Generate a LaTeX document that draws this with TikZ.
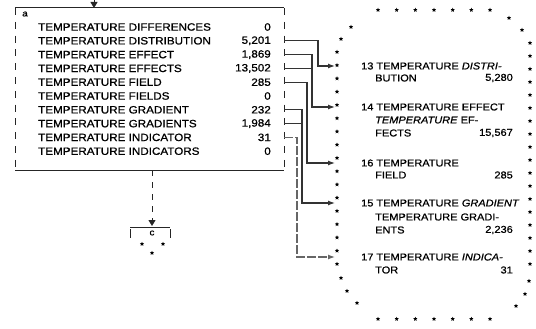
\documentclass[tikz,border=0pt]{standalone}
\usepackage{fontspec}
\setmainfont{Liberation Sans}
\newfontfamily\pf[FakeStretch=1.1,FakeBold=0.8]{Liberation Sans}
\usetikzlibrary{arrows.meta,shapes.geometric}
\begin{document}
\begin{tikzpicture}[x=1pt,y=-1pt,
  rowtxt/.style={anchor=west,inner sep=0pt,font=\pf\fontsize{10.6}{12}\selectfont},
  rownum/.style={anchor=east,inner sep=0pt,font=\pf\fontsize{10.6}{12}\selectfont},
  rtxt/.style={anchor=west,inner sep=0pt,font=\pf\fontsize{10}{11}\selectfont},
  rnum/.style={anchor=east,inner sep=0pt,font=\pf\fontsize{10}{11}\selectfont},
  conn/.style={draw=black!80,line width=1.2pt},
  arr/.style={-{Latex[length=7pt,width=5pt]}},
  boxline/.style={draw=black!85,line width=1pt},
  starmark/.style={star,star points=5,star point ratio=2.2,fill=black,inner sep=0pt,minimum size=4.5pt}
]
\useasboundingbox (0,0) rectangle (536,329);
\fill[white] (0,0) rectangle (536,329);

% box a
\draw[boxline] (15,8) -- (284,8);
\draw[boxline] (15,170) -- (284,170);
\draw[boxline,dash pattern=on 7pt off 6.8pt] (15,8) -- (15,170);
\draw[boxline,dash pattern=on 7pt off 6.8pt] (284,8) -- (284,172);
\node[inner sep=0pt,font=\pf\fontsize{9}{10}\selectfont] (la) at (25,14) {a};

% top incoming arrow
\coordinate (topin) at (94,0);
\coordinate (topat) at (94,8);
\draw[boxline,-{Triangle[length=6pt,width=7pt]}] (topin) -- (topat);

\foreach \i/\t/\n in {0/DIFFERENCES/0,1/DISTRIBUTION/{5,201},2/EFFECT/{1,869},3/EFFECTS/{13,502},4/FIELD/285,5/FIELDS/0,6/GRADIENT/232,7/GRADIENTS/{1,984},8/INDICATOR/31,9/INDICATORS/0}{
  \pgfmathsetmacro\yy{27+13.8*\i}
  \node[rowtxt] (r\i) at (38,\yy) {TEMPERATURE \t};
  \node[rownum] (n\i) at (271,\yy) {\n};
  \coordinate (s\i) at (284,\yy);
}

% star bordered box
\foreach \k in {0,...,6}{
  \node[starmark] (st\k) at (378+18.67*\k,10) {};
  \node[starmark] (sb\k) at (378+18.67*\k,319) {};
}
\foreach \k in {0,...,16}{
  \node[starmark] (sl\k) at (337,52+13.25*\k) {};
}
\foreach \k in {0,...,17}{
  \node[starmark] (sr\k) at (530,43+13*\k) {};
}
\foreach \p [count=\k] in {(351,27),(341,39),(509,18),(522,30),(529,281),(525,294),(516,306),(357,303),(347,291),(341,278)}{
  \node[starmark] (sc\k) at \p {};
}

% right entries
\node[rtxt] (e13) at (361,66) {13 TEMPERATURE \textit{DISTRI-}};
\node[rtxt] (e13b) at (375,78) {BUTION};
\node[rnum] (v13) at (513,78) {5,280};

\node[rtxt] (e14) at (361,107) {14 TEMPERATURE EFFECT};
\node[rtxt] (e14b) at (375,120) {\textit{TEMPERATURE} EF-};
\node[rtxt] (e14c) at (375,133) {FECTS};
\node[rnum] (v14) at (513,133) {15,567};

\node[rtxt] (e16) at (361,163) {16 TEMPERATURE};
\node[rtxt] (e16b) at (375,175) {FIELD};
\node[rnum] (v16) at (513,175) {285};

\node[rtxt] (e15) at (361,203) {15 TEMPERATURE \textit{GRADIENT}};
\node[rtxt] (e15b) at (375,217) {TEMPERATURE GRADI-};
\node[rtxt] (e15c) at (375,230) {ENTS};
\node[rnum] (v15) at (513,230) {2,236};

\node[rtxt] (e17) at (361,257) {17 TEMPERATURE \textit{INDICA-}};
\node[rtxt] (e17b) at (375,270) {TOR};
\node[rnum] (v17) at (513,270) {31};

\coordinate (t13) at (335,66);
\coordinate (t14) at (335,107);
\coordinate (t16) at (335,163);
\coordinate (t15) at (335,203);
\coordinate (t17) at (335,257);

% connectors
\draw[conn,arr] (s1) -- ++(34,0) |- (t13);
\draw[conn,arr] (s2) -- ++(28,0) |- (t14);
\draw[conn] (s3) -- ++(28,0);
\draw[conn,arr] (s4) -- ++(23,0) |- (t16);
\draw[conn,arr] (s6) -- ++(18,0) |- (t15);
\draw[conn] (s7) -- ++(18,0);
\draw[conn,arr,draw=black!60,dash pattern=on 9pt off 2pt] (s8) -- ++(13,0) |- (t17);

% down arrow to box c
\coordinate (abot) at (152,170);
\coordinate (ctop) at (152,226);
\draw[boxline,dash pattern=on 6pt off 6pt,-{Triangle[length=6pt,width=7pt]}] (abot) -- (ctop);
\draw[boxline] (130,227) -- (170,227);
\draw[boxline] (130,229) -- (130,238);
\draw[boxline] (170,229) -- (170,238);
\node[inner sep=0pt,font=\pf\fontsize{9}{10}\selectfont] (lc) at (152,233) {c};
\node[starmark] (cs1) at (142,244) {};
\node[starmark] (cs2) at (163,244) {};
\node[starmark] (cs3) at (152,253) {};
\end{tikzpicture}
\end{document}
